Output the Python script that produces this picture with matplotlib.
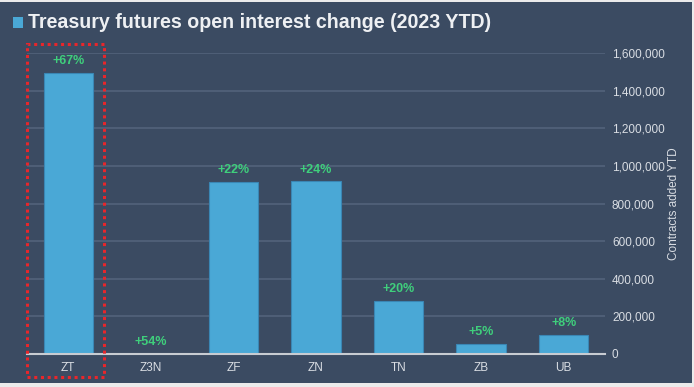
import matplotlib
matplotlib.use("Agg")
import matplotlib.pyplot as plt
import matplotlib.patches as patches
import numpy as np

contracts = ["ZT", "Z3N", "ZF", "ZN", "TN", "ZB", "UB"]
added = [1494000, 0, 915000, 918000, 283000, 55000, 103000]
pct_labels = ["+67%", "+54%", "+22%", "+24%", "+20%", "+5%", "+8%"]
yticks = [0, 200000, 400000, 600000, 800000, 1000000, 1200000, 1400000, 1600000]

bg = "#3b4b62"
bar_col = "#4aa8d6"
txt_col = "#d9dde3"
green = "#3fcf7c"

plt.rcParams['font.family'] = ['Liberation Sans Narrow', 'Liberation Sans', 'DejaVu Sans']

W, H = 694, 387
fig = plt.figure(figsize=(W / 100, H / 100), dpi=100, facecolor="#ebebeb")
# dark panel
fig.patches.append(patches.Rectangle((0, 4 / H), 692 / W, 381 / H, transform=fig.transFigure,
                                     facecolor=bg, edgecolor="none", zorder=-10))

ax = fig.add_axes([27 / W, 33 / H, 578 / W, 301 / H])
ax.set_zorder(1)
ax.set_facecolor("none")
x = np.arange(len(contracts))
ax.bar(x, added, width=0.6, color=bar_col, edgecolor="#3a86b4", linewidth=0.8, zorder=3)
ax.set_xlim(-0.5, len(contracts) - 0.5)
ax.set_ylim(0, 1600000)
ax.set_yticks(yticks)
ax.set_yticklabels(["{:,}".format(v) for v in yticks], color=txt_col, fontsize=8.5)
ax.yaxis.tick_right()
ax.yaxis.set_label_position("right")
ax.tick_params(axis="y", length=0, pad=5)
ax.tick_params(axis="x", length=0, pad=6, labelsize=8.5, colors=txt_col)
ax.set_xticks(x)
ax.set_xticklabels(contracts)
ax.grid(axis="y", color="#53637b", linewidth=1.2, zorder=0)
ax.set_axisbelow(True)
for s in ["top", "left", "right"]:
    ax.spines[s].set_visible(False)
ax.spines["bottom"].set_color("#c8ccd2")
ax.spines["bottom"].set_linewidth(1.5)
ax.spines["bottom"].set_zorder(4)
ax.set_ylabel("Contracts added YTD", color=txt_col, fontsize=8.5, labelpad=2)

for xi, v, lab in zip(x, added, pct_labels):
    ax.annotate(lab, (xi, v), xytext=(0, 4), textcoords="offset points",
                ha="center", va="bottom", color=green, fontsize=9, fontweight="bold")

# red dotted highlight box around ZT
fig.patches.append(patches.Rectangle((27 / W, (H - 377) / H), 77 / W, 333 / H,
                                     transform=fig.transFigure, fill=False,
                                     edgecolor="#e8262b", linestyle=(0, (1, 1.2)),
                                     linewidth=2.2, zorder=5))

# title with blue square
fig.patches.append(patches.Rectangle((13 / W, (H - 28) / H), 10 / W, 11 / H,
                                     transform=fig.transFigure, facecolor=bar_col,
                                     edgecolor="none", zorder=5))
fig.text(28 / W, (H - 23) / H, "Treasury futures open interest change (2023 YTD)",
         color="#eef0f3", fontsize=14.1, fontweight="bold", va="center", ha="left")

fig.savefig("out.png", dpi=100, facecolor=fig.get_facecolor())
